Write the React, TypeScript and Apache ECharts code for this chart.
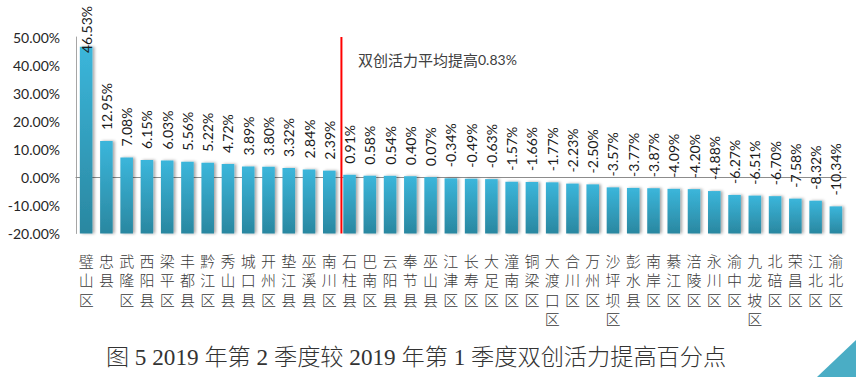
import React, { useEffect, useRef } from "react";
import * as echarts from "echarts";

const categories: string[] = [
  "璧山区", "忠县", "武隆区", "西阳县", "梁平区", "丰都县", "黔江区", "秀山县", "城口县", "开州区",
  "垫江县", "巫溪县", "南川区", "石柱县", "巴南区", "云阳县", "奉节县", "巫山县", "江津区", "长寿区",
  "大足区", "潼南区", "铜梁区", "大渡口区", "合川区", "万州区", "沙坪坝区", "彭水县", "南岸区", "綦江区",
  "涪陵区", "永川区", "渝中区", "九龙坡区", "北碚区", "荣昌区", "江北区", "渝北区",
];

const values: number[] = [
  46.53, 12.95, 7.08, 6.15, 6.03, 5.56, 5.22, 4.72, 3.89, 3.8,
  3.32, 2.84, 2.39, 0.91, 0.58, 0.54, 0.4, 0.07, -0.34, -0.49,
  -0.63, -1.57, -1.66, -1.77, -2.23, -2.5, -3.57, -3.77, -3.87, -4.09,
  -4.2, -4.88, -6.27, -6.51, -6.7, -7.58, -8.32, -10.34,
];

const Y_MIN = -20;
const Y_MAX = 50;
const Y_STEP = 10;
const dividerAfterIndex = 12;
const avgLabelText = "双创活力平均提高";
const avgLabelValue = "0.83%";
const titleText = "图 5 2019 年第 2 季度较 2019 年第 1 季度双创活力提高百分点";

export default function App() {
  const ref = useRef<HTMLDivElement>(null);

  useEffect(() => {
    if (!ref.current) return;
    const chart = echarts.init(ref.current, undefined, { renderer: "svg" });

    const barData = values.map((v, i) => [i, v]);

    const option: any = {
      animation: false,
      backgroundColor: "#ffffff",
      grid: { left: 76, right: 10, top: 37, bottom: 143.5, containLabel: false },
      xAxis: {
        type: "category",
        data: categories,
        boundaryGap: true,
        axisLine: { show: true, lineStyle: { color: "#8c8c8c", width: 1.2 } },
        axisTick: { show: false },
        axisLabel: {
          interval: 0,
          margin: 17,
          color: "#3a3a3a",
          fontSize: 15,
          lineHeight: 19.5,
          fontFamily: '"Noto Sans CJK SC"',
          fontWeight: 300,
          formatter: (s: string) => s.split("").join("\n"),
        },
        splitLine: { show: false },
      },
      yAxis: {
        type: "value",
        min: Y_MIN,
        max: Y_MAX,
        interval: Y_STEP,
        axisLine: { show: true, lineStyle: { color: "#a6a6a6", width: 1 } },
        axisTick: { show: false },
        splitLine: { show: false },
        axisLabel: {
          margin: 16,
          color: "#262626",
          fontSize: 14,
          fontFamily: "Lato",
          formatter: (v: number) => v.toFixed(2) + "%",
        },
      },
      series: [
        {
          type: "custom",
          name: "bars",
          data: barData,
          encode: { x: 0, y: 1 },
          renderItem: (params: any, api: any) => {
            const i = api.value(0);
            const v = api.value(1);
            const top = api.coord([i, v]);
            const base = api.coord([i, Y_MIN]);
            const ceiling = api.coord([i, Y_MAX]);
            const bw = api.size([1, 0])[0] * 0.62;
            const ly = Math.max(top[1] - 11, ceiling[1] + 16);
            return {
              type: "group",
              children: [
                {
                  type: "rect",
                  shape: { x: top[0] - bw / 2, y: top[1], width: bw, height: base[1] - top[1] },
                  style: {
                    fill: new echarts.graphic.LinearGradient(0, 0, 0, 1, [
                      { offset: 0, color: "#3bb6db" },
                      { offset: 1, color: "#2a87a0" },
                    ]),
                    shadowBlur: 3,
                    shadowColor: "rgba(0,0,0,0.35)",
                    shadowOffsetX: 2,
                    shadowOffsetY: 0,
                  },
                },
                {
                  type: "text",
                  x: top[0],
                  y: ly,
                  rotation: Math.PI / 2,
                  z2: 10,
                  style: {
                    text: v.toFixed(2) + "%",
                    fill: "#1a1a1a",
                    font: "14px Lato",
                    align: "left",
                    verticalAlign: "middle",
                  },
                },
              ],
            };
          },
        },
        {
          type: "custom",
          name: "divider",
          data: [[dividerAfterIndex, Y_MAX]],
          encode: { x: 0, y: 1 },
          z: 5,
          renderItem: (params: any, api: any) => {
            const i = api.value(0);
            const a = api.coord([i, Y_MAX]);
            const b = api.coord([i, Y_MIN]);
            const half = api.size([1, 0])[0] / 2;
            const x = a[0] + half + 2;
            return {
              type: "line",
              shape: { x1: x, y1: a[1], x2: x, y2: b[1] },
              style: { stroke: "#ff0000", lineWidth: 2 },
            };
          },
        },
      ],
      graphic: [
        {
          type: "text",
          left: 358,
          top: 52,
          style: {
            text: "{a|" + avgLabelText + "}{b|" + avgLabelValue + "}",
            rich: {
              a: { fontSize: 15, fontFamily: '"Noto Sans CJK SC"', fill: "#404040", color: "#404040" },
              b: { fontSize: 14, fontFamily: "Lato", fill: "#404040", color: "#404040" },
            },
          },
        },
        {
          type: "text",
          x: 416,
          y: 357,
          style: {
            text: titleText,
            font: '300 23.2px "Liberation Serif", "Noto Sans CJK SC"',
            fill: "#333333",
            align: "center",
            verticalAlign: "middle",
          },
        },
        {
          type: "polygon",
          shape: { points: [[817, 377], [856, 377], [856, 340]] },
          style: { fill: "#4aadc5" },
        },
      ],
    };

    chart.setOption(option);
    return () => chart.dispose();
  }, []);

  return (
    <div
      ref={ref}
      style={{ position: "absolute", left: 0, top: 0, width: 856, height: 377 }}
    />
  );
}
